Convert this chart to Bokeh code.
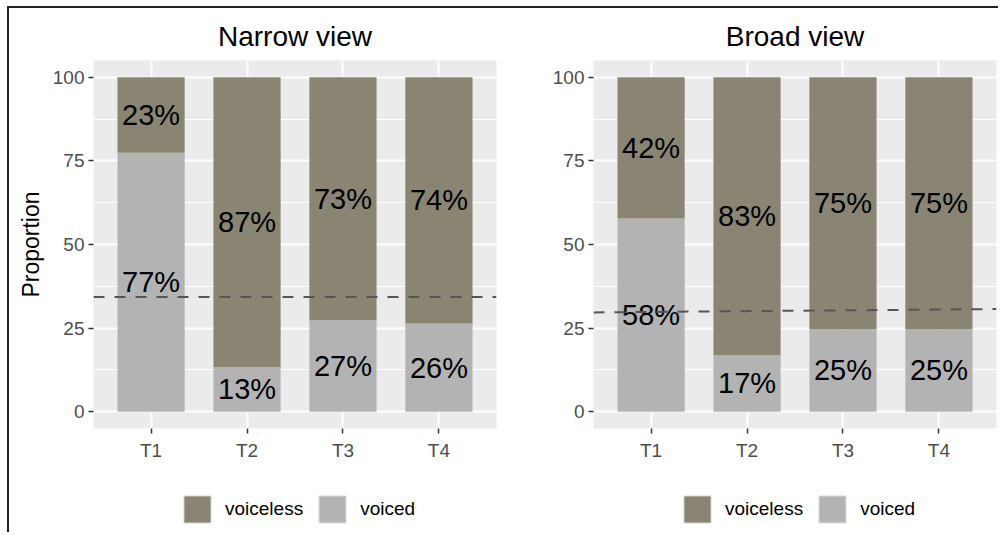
from bokeh.core.properties import value
from bokeh.embed import file_html
from bokeh.layouts import column, row
from bokeh.models import (ColumnDataSource, FixedTicker, Legend, LegendItem,
                          Range1d, Span)
from bokeh.plotting import figure
from bokeh.resources import INLINE

categories = ["T1", "T2", "T3", "T4"]

# narrow view (percent)
narrow_voiced = [77.4, 13.4, 27.4, 26.4]
narrow_voiceless = [22.6, 86.6, 72.6, 73.6]
narrow_ref = 34.3

# broad view (percent)
broad_voiced = [57.8, 17.0, 24.7, 24.7]
broad_voiceless = [42.2, 83.0, 75.3, 75.3]
broad_ref = [29.7, 30.7]  # slightly sloped dashed line, left -> right

y_ticks = [0, 25, 50, 75, 100]
y_minor = [12.5, 37.5, 62.5, 87.5]

FONT = "Liberation Sans"
VOICELESS = "#898572"
VOICED = "#B3B3B3"


def make_source(voiced, voiceless):
    xs = [i + 1 for i in range(len(categories))]
    return ColumnDataSource(dict(
        x=xs,
        voiced=voiced,
        voiceless=voiceless,
        voiced_y=[v / 2 for v in voiced],
        voiceless_y=[v + w / 2 for v, w in zip(voiced, voiceless)],
        voiced_lab=[f"{round(v)}%" for v in voiced],
        voiceless_lab=[f"{round(w)}%" for w in voiceless],
    ))


def panel(title, source, ref, ylabel, width, left, right):
    xs = source.data["x"]
    p = figure(width=width, height=462, title=title,
               x_range=Range1d(0.4, 4.6), y_range=Range1d(-5, 105),
               output_backend="svg", toolbar_location=None,
               min_border_left=left, min_border_right=right,
               min_border_top=52, min_border_bottom=42,
               background_fill_color="#EBEBEB", border_fill_color="white",
               outline_line_color=None)

    p.vbar_stack(["voiced", "voiceless"], x="x", width=0.7,
                 color=[VOICED, VOICELESS], line_color=None, source=source)

    p.text(x="x", y="voiced_y", text="voiced_lab", source=source,
           text_align="center", text_baseline="middle",
           text_font=value(FONT), text_font_size="29px", text_color="black")
    p.text(x="x", y="voiceless_y", text="voiceless_lab", source=source,
           text_align="center", text_baseline="middle",
           text_font=value(FONT), text_font_size="29px", text_color="black")

    if isinstance(ref, list):
        p.line(x=[0.4, 4.6], y=ref, line_color="#555555", line_width=2,
               line_dash="11 10")
    else:
        p.add_layout(Span(location=ref, dimension="width",
                          line_color="#555555", line_width=2,
                          line_dash="11 10"))

    # axes
    p.xaxis.ticker = FixedTicker(ticks=xs)
    p.xaxis.major_label_overrides = {x: c for x, c in zip(xs, categories)}
    p.yaxis.ticker = FixedTicker(ticks=y_ticks, minor_ticks=y_minor)
    for ax in (p.xaxis, p.yaxis):
        ax.axis_line_color = None
        ax.major_tick_in = 0
        ax.major_tick_out = 5
        ax.major_tick_line_color = "#333333"
        ax.major_tick_line_width = 1.5
        ax.minor_tick_line_color = None
        ax.major_label_text_font = FONT
        ax.major_label_text_font_size = "19px"
        ax.major_label_text_color = "#4D4D4D"
        ax.major_label_standoff = 4
    p.xaxis.major_label_standoff = 6
    if ylabel:
        p.yaxis.axis_label = ylabel
        p.yaxis.axis_label_text_font = FONT
        p.yaxis.axis_label_text_font_size = "23px"
        p.yaxis.axis_label_text_font_style = "normal"
        p.yaxis.axis_label_text_color = "black"
        p.yaxis.axis_label_standoff = 6

    # grid
    p.xgrid.grid_line_color = "white"
    p.xgrid.grid_line_width = 2
    p.ygrid.grid_line_color = "white"
    p.ygrid.grid_line_width = 2
    p.ygrid.minor_grid_line_color = "white"
    p.ygrid.minor_grid_line_width = 1

    # title
    p.title.align = "center"
    p.title.text_font = FONT
    p.title.text_font_size = "28px"
    p.title.text_font_style = "normal"
    p.title.text_color = "black"
    p.title.standoff = 17
    return p


def legend_strip(source, width):
    # strip under each panel that only carries the fill legend;
    # the bars are drawn off-range so only their swatches show
    p = figure(width=width, height=62, x_range=Range1d(0.4, 4.6),
               y_range=Range1d(1000, 1001), output_backend="svg",
               toolbar_location=None, min_border=0,
               x_axis_location=None, y_axis_location=None,
               outline_line_color=None)
    p.grid.grid_line_color = None
    bars = p.vbar_stack(["voiced", "voiceless"], x="x", width=0.7,
                        color=[VOICED, VOICELESS], line_color="#E6E6E6",
                        line_width=1, source=source)
    legend = Legend(items=[LegendItem(label="voiceless", renderers=[bars[1]]),
                           LegendItem(label="voiced", renderers=[bars[0]])],
                    orientation="horizontal", location=(87, 6),
                    glyph_width=34, glyph_height=34, label_standoff=11,
                    spacing=12, padding=0, margin=0,
                    border_line_color=None, background_fill_alpha=0,
                    label_text_font=FONT, label_text_font_size="19px",
                    label_text_color="black")
    p.add_layout(legend)
    return p


narrow_src = make_source(narrow_voiced, narrow_voiceless)
broad_src = make_source(broad_voiced, broad_voiceless)

left = panel("Narrow view", narrow_src, narrow_ref, "Proportion", 490, 84, 3)
right = panel("Broad view", broad_src, broad_ref, None, 499, 94, 2)

layout = row(column(left, legend_strip(narrow_src, 490)),
             column(right, legend_strip(broad_src, 499)),
             styles={"border-top": "2px solid #222222",
                     "border-left": "2px solid #222222",
                     "margin-left": "7px",
                     "margin-top": "6px"})

open("out.html", "w").write(file_html(layout, INLINE))
